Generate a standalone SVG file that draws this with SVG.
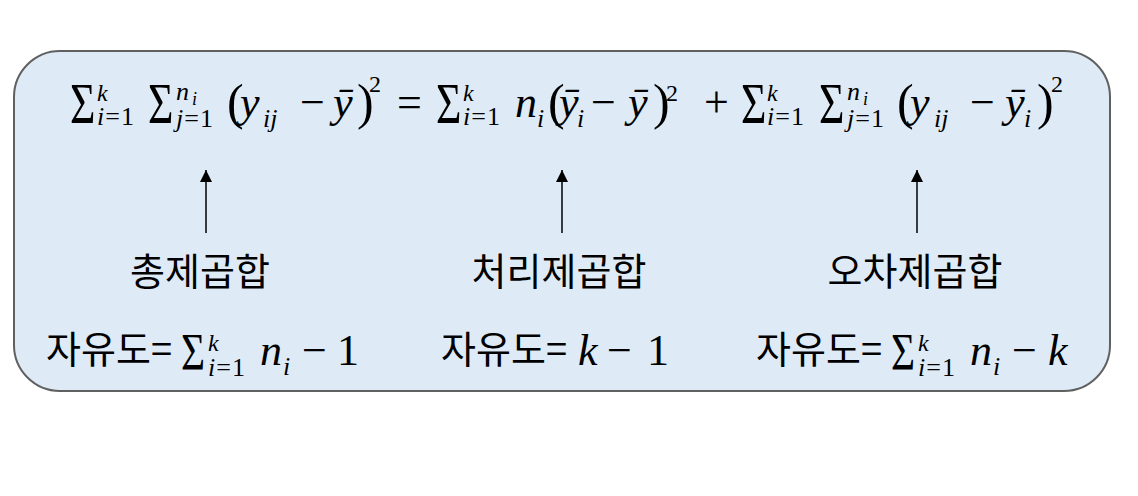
<svg xmlns="http://www.w3.org/2000/svg" width="1138" height="496" viewBox="0 0 1138 496">
<style>
.box{fill:#deebf7;stroke:#606060;stroke-width:2}
.arr{stroke:#000;stroke-width:1.5;fill:none}
</style>
<defs>
<marker id="ah" markerUnits="userSpaceOnUse" markerWidth="13" markerHeight="13" refX="12" refY="6" orient="auto">
<path d="M0,0 L12,6 L0,12 Z" fill="#000"/>
</marker>
</defs>
<rect x="0" y="0" width="1138" height="496" fill="#ffffff"/>
<g id="box">
<rect class="box" x="14" y="51" width="1096" height="340" rx="46" ry="46"/>
</g>
<g id="equation" fill="#000" font-family="Liberation Serif, serif">
<text font-family="Liberation Serif, serif" font-size="56" transform="translate(70,123) scale(0.78,1)">Σ</text>
<text font-family="Liberation Serif, serif" font-size="24" font-style="italic" x="97" y="101">k</text>
<text font-family="Liberation Serif, serif" font-size="26" letter-spacing="1" x="97" y="125"><tspan font-style="italic">i</tspan>=1</text>
<text font-family="Liberation Serif, serif" font-size="56" transform="translate(148,123) scale(0.78,1)">Σ</text>
<text font-family="Liberation Serif, serif" font-size="26" font-style="italic" x="176" y="100">n</text>
<text font-family="Liberation Serif, serif" font-size="18" font-style="italic" x="192" y="105">i</text>
<text font-family="Liberation Serif, serif" font-size="26" letter-spacing="1" x="176" y="127"><tspan font-style="italic">j</tspan>=1</text>
<text font-family="Liberation Serif, serif" font-size="50" x="227" y="119">(</text>
<text font-family="Liberation Serif, serif" font-size="44" font-style="italic" x="240" y="117">y</text>
<text font-family="Liberation Serif, serif" font-size="26" font-style="italic" x="263" y="127">ij</text>
<text font-family="Liberation Serif, serif" font-size="44" x="300" y="117">−</text>
<text font-family="Liberation Serif, serif" font-size="44" font-style="italic" x="333" y="117">ȳ</text>
<text font-family="Liberation Serif, serif" font-size="50" x="357" y="119">)</text>
<text font-family="Liberation Serif, serif" font-size="24" x="369" y="92">2</text>
<text font-family="Liberation Serif, serif" font-size="44" x="397" y="117">=</text>
<text font-family="Liberation Serif, serif" font-size="56" transform="translate(436,123) scale(0.78,1)">Σ</text>
<text font-family="Liberation Serif, serif" font-size="24" font-style="italic" x="463" y="101">k</text>
<text font-family="Liberation Serif, serif" font-size="26" letter-spacing="1" x="463" y="125"><tspan font-style="italic">i</tspan>=1</text>
<text font-family="Liberation Serif, serif" font-size="44" font-style="italic" x="515" y="117">n</text>
<text font-family="Liberation Serif, serif" font-size="26" font-style="italic" x="537" y="127">i</text>
<text font-family="Liberation Serif, serif" font-size="50" x="548" y="119">(</text>
<text font-family="Liberation Serif, serif" font-size="44" font-style="italic" x="559" y="117">ȳ</text>
<text font-family="Liberation Serif, serif" font-size="26" font-style="italic" x="577" y="127">i</text>
<text font-family="Liberation Serif, serif" font-size="44" x="591" y="117">−</text>
<text font-family="Liberation Serif, serif" font-size="44" font-style="italic" x="628" y="117">ȳ</text>
<text font-family="Liberation Serif, serif" font-size="50" x="653" y="119">)</text>
<text font-family="Liberation Serif, serif" font-size="24" x="666" y="101">2</text>
<text font-family="Liberation Serif, serif" font-size="44" x="704" y="117">+</text>
<text font-family="Liberation Serif, serif" font-size="56" transform="translate(741,123) scale(0.78,1)">Σ</text>
<text font-family="Liberation Serif, serif" font-size="24" font-style="italic" x="767" y="101">k</text>
<text font-family="Liberation Serif, serif" font-size="26" letter-spacing="1" x="767" y="125"><tspan font-style="italic">i</tspan>=1</text>
<text font-family="Liberation Serif, serif" font-size="56" transform="translate(819,123) scale(0.78,1)">Σ</text>
<text font-family="Liberation Serif, serif" font-size="26" font-style="italic" x="847" y="100">n</text>
<text font-family="Liberation Serif, serif" font-size="18" font-style="italic" x="863" y="105">i</text>
<text font-family="Liberation Serif, serif" font-size="26" letter-spacing="1" x="847" y="127"><tspan font-style="italic">j</tspan>=1</text>
<text font-family="Liberation Serif, serif" font-size="50" x="897" y="119">(</text>
<text font-family="Liberation Serif, serif" font-size="44" font-style="italic" x="910" y="117">y</text>
<text font-family="Liberation Serif, serif" font-size="26" font-style="italic" x="934" y="127">ij</text>
<text font-family="Liberation Serif, serif" font-size="44" x="970" y="117">−</text>
<text font-family="Liberation Serif, serif" font-size="44" font-style="italic" x="1005" y="117">ȳ</text>
<text font-family="Liberation Serif, serif" font-size="26" font-style="italic" x="1024" y="127">i</text>
<text font-family="Liberation Serif, serif" font-size="50" x="1037" y="119">)</text>
<text font-family="Liberation Serif, serif" font-size="24" x="1051" y="92">2</text>
</g>
<g id="connectors">
<line class="arr" x1="206" y1="233" x2="206" y2="170" marker-end="url(#ah)"/>
<line class="arr" x1="562" y1="233" x2="562" y2="170" marker-end="url(#ah)"/>
<line class="arr" x1="917" y1="233" x2="917" y2="170" marker-end="url(#ah)"/>
</g>
<g id="node-total" fill="#000">
<text font-family="Noto Sans CJK KR, sans-serif" font-size="38" x="200" y="285" text-anchor="middle">총제곱합</text>
<text font-family="Noto Sans CJK KR, sans-serif" font-size="38" x="46" y="363">자유도=</text>
<text font-family="Liberation Serif, serif" font-size="53" transform="translate(181,370) scale(0.78,1)">Σ</text>
<text font-family="Liberation Serif, serif" font-size="24" font-style="italic" x="208" y="351">k</text>
<text font-family="Liberation Serif, serif" font-size="26" letter-spacing="1" x="208" y="376"><tspan font-style="italic">i</tspan>=1</text>
<text font-family="Liberation Serif, serif" font-size="44" font-style="italic" x="260" y="365">n</text>
<text font-family="Liberation Serif, serif" font-size="26" font-style="italic" x="283" y="375">i</text>
<text font-family="Liberation Serif, serif" font-size="44" x="302" y="365">−</text>
<text font-family="Liberation Serif, serif" font-size="44" x="337" y="365">1</text>
</g>
<g id="node-treatment" fill="#000">
<text font-family="Noto Sans CJK KR, sans-serif" font-size="38" x="559" y="285" text-anchor="middle">처리제곱합</text>
<text font-family="Noto Sans CJK KR, sans-serif" font-size="38" x="441" y="363">자유도=</text>
<text font-family="Liberation Serif, serif" font-size="44" font-style="italic" x="578" y="365">k</text>
<text font-family="Liberation Serif, serif" font-size="44" x="607" y="365">−</text>
<text font-family="Liberation Serif, serif" font-size="44" x="647" y="365">1</text>
</g>
<g id="node-error" fill="#000">
<text font-family="Noto Sans CJK KR, sans-serif" font-size="38" x="915" y="285" text-anchor="middle">오차제곱합</text>
<text font-family="Noto Sans CJK KR, sans-serif" font-size="38" x="756" y="363">자유도=</text>
<text font-family="Liberation Serif, serif" font-size="53" transform="translate(891,370) scale(0.78,1)">Σ</text>
<text font-family="Liberation Serif, serif" font-size="24" font-style="italic" x="918" y="351">k</text>
<text font-family="Liberation Serif, serif" font-size="26" letter-spacing="1" x="918" y="376"><tspan font-style="italic">i</tspan>=1</text>
<text font-family="Liberation Serif, serif" font-size="44" font-style="italic" x="970" y="365">n</text>
<text font-family="Liberation Serif, serif" font-size="26" font-style="italic" x="993" y="375">i</text>
<text font-family="Liberation Serif, serif" font-size="44" x="1012" y="365">−</text>
<text font-family="Liberation Serif, serif" font-size="44" font-style="italic" x="1048" y="365">k</text>
</g>
</svg>
